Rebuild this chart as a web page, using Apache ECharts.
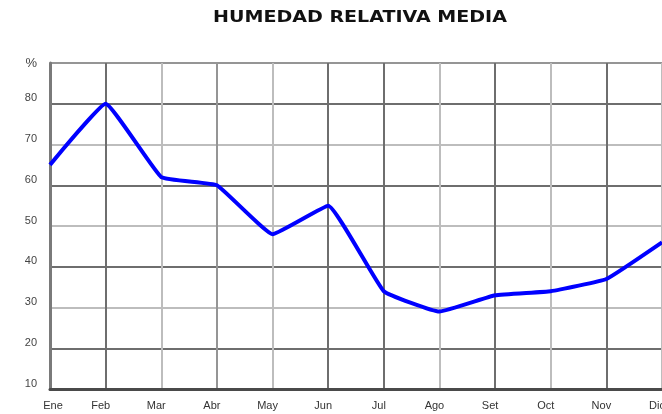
<!DOCTYPE html>
<html>
<head>
<meta charset="utf-8">
<style>
  html, body { margin: 0; padding: 0; background: #fff; }
  #chart { width: 662px; height: 414px; }
</style>
<script src="https://cdn.jsdelivr.net/npm/echarts@6/dist/echarts.min.js"></script>
</head>
<body>
<div id="chart"></div>
<script>
// datos
const meses = ['Ene', 'Feb', 'Mar', 'Abr', 'May', 'Jun', 'Jul', 'Ago', 'Set', 'Oct', 'Nov', 'Dic'];
const humedad = [65, 80, 62, 60, 48, 55, 34, 29, 33, 34, 37, 46];

const DARK = '#6e6e6e';
const LIGHT = '#bdbdbd';
const MID = '#959595';
// colores de las lineas de la grilla (imitan el remuestreo del original)
const colX = [MID, DARK, LIGHT, MID, LIGHT, DARK, DARK, LIGHT, DARK, LIGHT, DARK, LIGHT];
const colY = [DARK, DARK, LIGHT, DARK, LIGHT, DARK, LIGHT, DARK, MID];

const chart = echarts.init(document.getElementById('chart'));

chart.setOption({
  animation: false,
  textStyle: { fontFamily: 'Liberation Sans' },
  graphic: [
    {
      type: 'text',
      x: 360,
      y: 18,
      scaleX: 1.19,
      style: {
        text: 'HUMEDAD RELATIVA MEDIA',
        fontFamily: 'DejaVu Sans',
        fontWeight: 'bold',
        fontSize: 16,
        fill: '#111',
        align: 'center',
        verticalAlign: 'middle'
      }
    }
  ],
  grid: { left: 50, right: 0, top: 63, bottom: 25, outerBoundsMode: 'none' },
  xAxis: {
    type: 'category',
    data: meses,
    boundaryGap: false,
    axisTick: { show: false },
    axisLine: { lineStyle: { color: '#4a4a4a', width: 3 } },
    axisLabel: {
      color: '#333',
      fontSize: 11,
      margin: 11,
      padding: [0, 10, 0, 0],
      // el primer mes queda algo a la derecha en el original
      formatter: (v, i) => (i === 0 ? '{e|' + v + '}' : v),
      rich: { e: { color: '#333', fontSize: 11, padding: [0, 0, 0, 16] } }
    },
    splitLine: { show: true, lineStyle: { color: colX, width: 2 } }
  },
  yAxis: {
    type: 'value',
    min: 10,
    max: 90,
    interval: 10,
    name: '%',
    nameLocation: 'end',
    nameGap: 0,
    nameTextStyle: {
      color: '#444',
      fontSize: 13,
      align: 'right',
      verticalAlign: 'middle',
      padding: [0, 13, 0, 0]
    },
    axisTick: { show: false },
    axisLine: { show: true, lineStyle: { color: '#7a7a7a', width: 3 } },
    axisLabel: {
      color: '#444',
      fontSize: 11,
      margin: 13,
      verticalAlign: 'bottom',
      showMaxLabel: false
    },
    splitLine: { show: true, lineStyle: { color: colY, width: 2 } }
  },
  series: [
    {
      type: 'line',
      data: humedad,
      smooth: 0.1,
      showSymbol: false,
      lineStyle: { color: '#0000ff', width: 4 },
      z: 5
    }
  ]
});
</script>
</body>
</html>
